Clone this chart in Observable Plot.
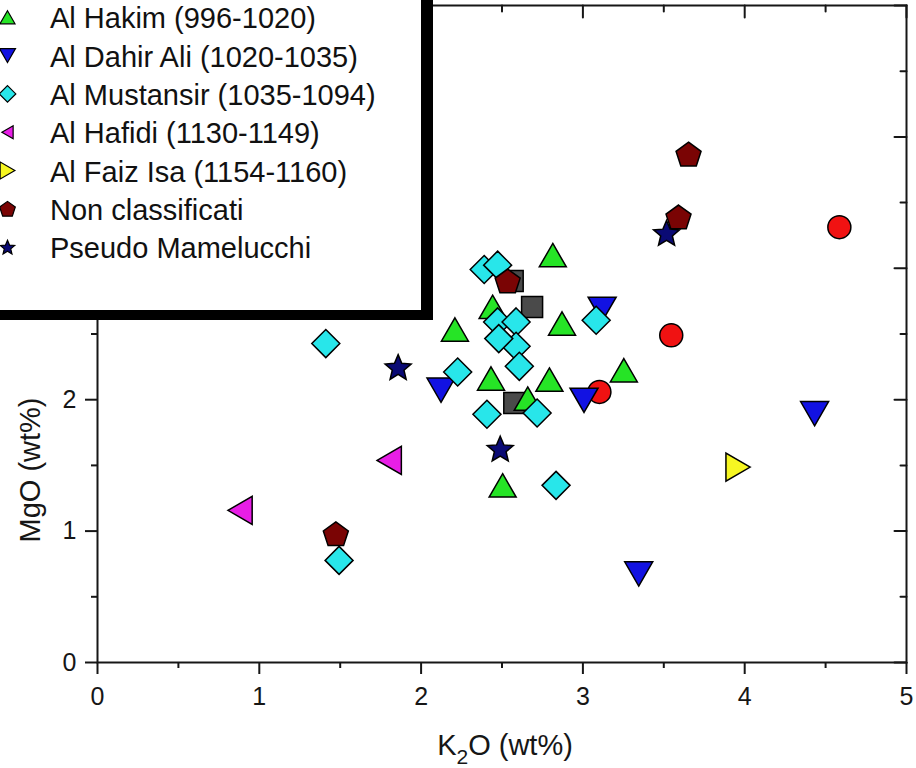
<!DOCTYPE html>
<html><head><meta charset="utf-8">
<script src="https://cdn.jsdelivr.net/npm/d3@7"></script>
<script src="https://cdn.jsdelivr.net/npm/@observablehq/plot@0.6"></script>
<style>
html,body{margin:0;padding:0;background:#fff;}
#wrap{position:relative;width:916px;height:768px;overflow:hidden;font-family:Arial,"Liberation Sans",sans-serif;}
#wrap svg{position:absolute;left:0;top:0;}
</style></head><body><div id="wrap"></div>
<script>
// ---- data: [K2O wt%, MgO wt%] per group ----
const alMuizz = [[2.566, 2.904], [2.686, 2.706], [2.576, 1.974]];            // dark grey squares (legend entry cut off)
const alAziz = [[4.585, 3.313], [3.546, 2.490], [3.102, 2.059]];             // red circles (legend entry cut off)
const alHakim = [[2.814, 3.100], [2.442, 2.706], [2.209, 2.534], [2.871, 2.580], [2.432, 2.161],
                 [2.793, 2.153], [3.253, 2.224], [2.659, 2.008], [2.504, 1.348]];
const alDahirAli = [[3.119, 2.688], [2.123, 2.072], [3.007, 1.995], [4.432, 1.894], [3.345, 0.674]];
const alMustansir = [[2.390, 2.991], [2.473, 3.024], [1.411, 2.427], [2.473, 2.592], [2.587, 2.592],
                     [2.587, 2.407], [2.480, 2.465], [2.607, 2.254], [2.226, 2.211], [2.407, 1.889],
                     [2.717, 1.899], [3.082, 2.605], [2.834, 1.348], [1.493, 0.777]];
const alHafidi = [[0.881, 1.158], [1.803, 1.538]];
const alFaizIsa = [[3.959, 1.487]];
const nonClassificati = [[3.653, 3.869], [3.591, 3.391], [2.535, 2.904], [1.473, 0.980]];
const pseudoMamelucchi = [[3.517, 3.270], [1.858, 2.249], [2.489, 1.628]];

const groupNames = ["Al Muizz (953-975)", "Al Aziz (975-996)", "Al Hakim (996-1020)", "Al Dahir Ali (1020-1035)",
  "Al Mustansir (1035-1094)", "Al Hafidi (1130-1149)", "Al Faiz Isa (1154-1160)", "Non classificati", "Pseudo Mamelucchi"];
const groupColors = ["#4a4a4a", "#f01212", "#26e426", "#1212e2", "#28e6ea", "#e81ee6", "#f6f622", "#7a0404", "#0a0a74"];
const groupShapes = ["square", "circle", "triUp", "triDown", "diamond", "triLeft", "triRight", "pentagon", "star"];
const groupData = [alMuizz, alAziz, alHakim, alDahirAli, alMustansir, alHafidi, alFaizIsa, nonClassificati, pseudoMamelucchi];
const legendShown = [2, 3, 4, 5, 6, 7, 8]; // entries visible in the picture

const xMajor = [0, 1, 2, 3, 4, 5];
const xMinor = [0.5, 1.5, 2.5, 3.5, 4.5];
const yLabeled = [0, 1, 2];        // labels above 2 sit under the legend box
const yMajorHidden = [3, 4, 5];
const yMajor = [0, 1, 2, 3, 4, 5];
const yMinor = [0.5, 1.5, 2.5, 3.5, 4.5];

// ---- symbols ----
function poly(c, pts) { c.moveTo(pts[0][0], pts[0][1]); for (let i = 1; i < pts.length; i++) c.lineTo(pts[i][0], pts[i][1]); c.closePath(); }
const R = s => Math.sqrt(s / Math.PI);
function starPts(r, k, inner) {
  const Ro = r / 0.951, pts = [], shift = Ro * 0.0955;
  for (let i = 0; i < k * 2; i++) {
    const rad = i % 2 === 0 ? Ro : Ro * inner;
    const a = -Math.PI / 2 + i * Math.PI / k;
    pts.push([rad * Math.cos(a), rad * Math.sin(a) + shift]);
  }
  return pts;
}
const symbols = {
  square: {draw(c, s) { const r = R(s); c.rect(-r, -r, 2 * r, 2 * r); }},
  circle: {draw(c, s) { const r = R(s); c.moveTo(r, 0); c.arc(0, 0, r, 0, 2 * Math.PI); c.closePath(); }},
  triUp: {draw(c, s) { const r = R(s), h = r * 0.866; poly(c, [[0, -h], [r, h], [-r, h]]); }},
  triDown: {draw(c, s) { const r = R(s), h = r * 0.866; poly(c, [[0, h], [r, -h], [-r, -h]]); }},
  triLeft: {draw(c, s) { const r = R(s), h = r * 0.866; poly(c, [[-h, 0], [h, -r], [h, r]]); }},
  triRight: {draw(c, s) { const r = R(s), h = r * 0.866; poly(c, [[h, 0], [-h, -r], [-h, r]]); }},
  diamond: {draw(c, s) { const r = R(s); poly(c, [[0, -r], [r, 0], [0, r], [-r, 0]]); }},
  pentagon: {draw(c, s) { const r = R(s), Ro = r / 0.951, sh = Ro * 0.0955, pts = [];
    for (let i = 0; i < 5; i++) { const a = -Math.PI / 2 + i * 2 * Math.PI / 5; pts.push([Ro * Math.cos(a), Ro * Math.sin(a) + sh]); }
    poly(c, pts); }},
  star: {draw(c, s) { poly(c, starPts(R(s), 5, 0.45)); }}
};
const plotR = {square: 10.5, circle: 11.5, triUp: 13.5, triDown: 14, diamond: 14, triLeft: 14, triRight: 14, pentagon: 12.5, star: 13};
const legendR = {square: 7, circle: 7, triUp: 7.5, triDown: 8, diamond: 8.3, triLeft: 6.5, triRight: 8.5, pentagon: 7.8, star: 7.2};

const ink = "#161616";
const font = "Arial, 'Liberation Sans', sans-serif";
const tickShape = {draw(c, l) { c.moveTo(0, 0); c.lineTo(0, -l); }};

const dotMarks = groupData.map((pts, i) => Plot.dot(pts, {
  x: d => d[0], y: d => d[1],
  symbol: symbols[groupShapes[i]], r: plotR[groupShapes[i]],
  fill: groupColors[i], stroke: "#000", strokeWidth: 1.5
}));

const svg = Plot.plot({
  width: 916, height: 768,
  marginLeft: 97, marginRight: 10, marginTop: 5, marginBottom: 106,
  x: {domain: [0, 5]},
  y: {domain: [0, 5]},
  style: {fontFamily: font, background: "#fff", color: ink},
  marks: [
    Plot.axisX({ticks: xMajor, tickSize: 12, tickPadding: 13, fontSize: 25, label: null, strokeWidth: 2, tickFormat: d => String(d)}),
    Plot.axisX({ticks: xMinor, tickSize: 6, label: null, strokeWidth: 2, tickFormat: () => ""}),
    Plot.axisY({ticks: yLabeled, tickSize: 12, tickPadding: 9, fontSize: 25, label: null, strokeWidth: 2, tickFormat: d => String(d)}),
    Plot.axisY({ticks: yMajorHidden, tickSize: 12, label: null, strokeWidth: 2, tickFormat: () => ""}),
    Plot.axisY({ticks: yMinor, tickSize: 6, label: null, strokeWidth: 2, tickFormat: () => ""}),
    Plot.vector(xMajor, {x: d => d, frameAnchor: "top", length: 12, rotate: 180, anchor: "start", shape: tickShape, stroke: ink, strokeWidth: 2}),
    Plot.vector(xMinor, {x: d => d, frameAnchor: "top", length: 6, rotate: 180, anchor: "start", shape: tickShape, stroke: ink, strokeWidth: 2}),
    Plot.vector(yMajor, {y: d => d, frameAnchor: "right", length: 12, rotate: -90, anchor: "start", shape: tickShape, stroke: ink, strokeWidth: 2}),
    Plot.vector(yMinor, {y: d => d, frameAnchor: "right", length: 6, rotate: -90, anchor: "start", shape: tickShape, stroke: ink, strokeWidth: 2}),
    Plot.frame({stroke: ink, strokeWidth: 2}),
    ...dotMarks
  ]
});

const s = d3.select(svg);
// x label with subscript
const xl = s.append("text").attr("x", 505).attr("y", 755).attr("text-anchor", "middle")
  .attr("font-size", 29).attr("fill", ink).attr("font-family", font);
xl.append("tspan").text("K");
xl.append("tspan").attr("font-size", 21).attr("dy", 9).text("2");
xl.append("tspan").attr("dy", -9).text("O (wt%)");
// y label
s.append("text").attr("transform", "translate(40,470) rotate(-90)").attr("text-anchor", "middle")
  .attr("font-size", 29).attr("fill", ink).attr("font-family", font)
  .text("MgO (wt%)");

const wrap = document.getElementById("wrap");
wrap.appendChild(svg);

// ---- legend overlay (box partly outside the picture, as in the reference) ----
const lg = d3.select(wrap).append("svg").attr("width", 434).attr("height", 321)
  .style("position", "absolute").style("left", "0px").style("top", "0px");
lg.append("rect").attr("x", 0).attr("y", 0).attr("width", 421).attr("height", 310).attr("fill", "#fff");
lg.append("rect").attr("x", 421).attr("y", 0).attr("width", 12).attr("height", 320).attr("fill", "#000");
lg.append("rect").attr("x", 0).attr("y", 310).attr("width", 433).attr("height", 10).attr("fill", "#000");
legendShown.forEach((gi, row) => {
  const base = 28.3 + row * 38.3;
  const shape = groupShapes[gi];
  const p = d3.path();
  symbols[shape].draw(p, Math.PI * legendR[shape] ** 2);
  lg.append("path").attr("d", p.toString()).attr("transform", `translate(7.5,${base - 11})`)
    .attr("fill", groupColors[gi]).attr("stroke", "#000").attr("stroke-width", 1.2);
  lg.append("text").attr("x", 50).attr("y", base).attr("font-size", 29).attr("fill", "#111")
    .attr("font-family", font).text(groupNames[gi]);
});
</script></body></html>
